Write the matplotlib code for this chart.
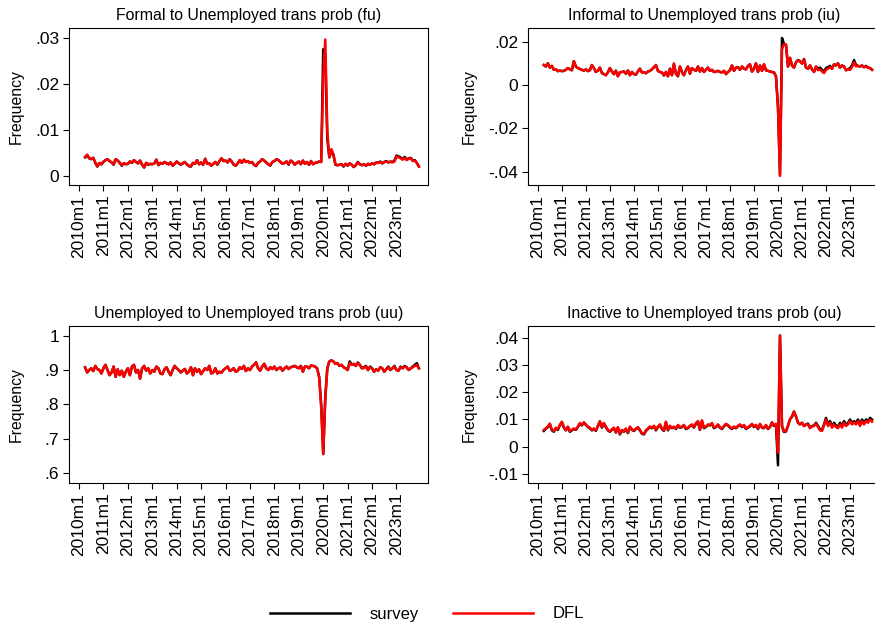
import numpy as np
import pandas as pd
import matplotlib
matplotlib.use("Agg")
import matplotlib.pyplot as plt

# monthly series, 2010m4 .. 2023m12
months = pd.period_range("2010-04", "2023-12", freq="M")

fu_survey = [
    .0040, .0045, .0038, .0036, .0039, .0028, .0020, .0027, .0025,
    .0030, .0034, .0036, .0032, .0029, .0024, .0036, .0033, .0028, .0022, .0027, .0025,
    .0026, .0031, .0028, .0034, .0030, .0027, .0033, .0024, .0018, .0028, .0024, .0026,
    .0025, .0027, .0035, .0023, .0028, .0026, .0030, .0027, .0025, .0029, .0022, .0026,
    .0031, .0027, .0024, .0027, .0030, .0025, .0021, .0020, .0028, .0026, .0034, .0025,
    .0029, .0024, .0037, .0026, .0027, .0022, .0026, .0030, .0024, .0032, .0038, .0032,
    .0033, .0029, .0036, .0031, .0024, .0022, .0027, .0034, .0028, .0035, .0030, .0032,
    .0028, .0030, .0024, .0021, .0028, .0031, .0036, .0033, .0029, .0025, .0022, .0030,
    .0032, .0036, .0034, .0030, .0026, .0028, .0031, .0024, .0033, .0030, .0024, .0028,
    .0031, .0025, .0033, .0026, .0030, .0024, .0032, .0025, .0028, .0029, .0031, .0030,
    .0275, .0262, .0080, .0040, .0055, .0045, .0024, .0023, .0024, .0025, .0020, .0026,
    .0022, .0027, .0024, .0019, .0023, .0030, .0025, .0023, .0025, .0022, .0026, .0024,
    .0027, .0025, .0029, .0028, .0031, .0027, .0030, .0032, .0029, .0031, .0030, .0033,
    .0044, .0042, .0040, .0036, .0041, .0035, .0038, .0039, .0033, .0034, .0028, .0020,
]
fu_dfl = [
    .0041, .0046, .0038, .0037, .0039, .0029, .0021, .0028, .0025,
    .0031, .0034, .0036, .0032, .0029, .0025, .0036, .0033, .0029, .0023, .0027, .0026,
    .0026, .0031, .0029, .0034, .0030, .0027, .0033, .0025, .0018, .0028, .0025, .0026,
    .0025, .0027, .0035, .0024, .0028, .0026, .0030, .0027, .0025, .0029, .0022, .0026,
    .0031, .0027, .0025, .0027, .0030, .0025, .0021, .0021, .0028, .0026, .0034, .0025,
    .0029, .0024, .0037, .0026, .0027, .0022, .0026, .0030, .0025, .0032, .0038, .0032,
    .0033, .0029, .0036, .0031, .0025, .0022, .0027, .0034, .0028, .0035, .0030, .0032,
    .0028, .0030, .0024, .0022, .0028, .0031, .0036, .0033, .0029, .0025, .0023, .0030,
    .0032, .0036, .0034, .0030, .0026, .0028, .0031, .0025, .0033, .0030, .0024, .0028,
    .0031, .0026, .0033, .0026, .0030, .0024, .0032, .0025, .0028, .0029, .0031, .0030,
    .0215, .0296, .0095, .0040, .0058, .0047, .0025, .0023, .0024, .0025, .0021, .0026,
    .0023, .0027, .0024, .0019, .0023, .0029, .0025, .0023, .0025, .0022, .0026, .0024,
    .0027, .0025, .0028, .0028, .0030, .0027, .0030, .0031, .0029, .0030, .0029, .0031,
    .0042, .0040, .0038, .0035, .0039, .0034, .0037, .0038, .0032, .0033, .0028, .0020,
]

iu_survey = [
    .0092, .0085, .0100, .0080, .0088, .0070, .0072, .0064, .0066,
    .0064, .0065, .0070, .0078, .0072, .0068, .0110, .0085, .0078, .0074, .0070, .0066,
    .0072, .0064, .0068, .0092, .0078, .0060, .0066, .0080, .0055, .0050, .0045, .0058,
    .0078, .0062, .0050, .0066, .0040, .0058, .0060, .0062, .0052, .0067, .0045, .0060,
    .0050, .0048, .0062, .0075, .0058, .0058, .0054, .0062, .0065, .0072, .0082, .0092,
    .0065, .0060, .0058, .0044, .0060, .0040, .0075, .0045, .0098, .0052, .0040, .0085,
    .0060, .0045, .0068, .0085, .0052, .0078, .0070, .0065, .0085, .0062, .0078, .0060,
    .0070, .0080, .0065, .0070, .0060, .0062, .0065, .0060, .0058, .0065, .0050, .0060,
    .0068, .0090, .0065, .0080, .0082, .0070, .0085, .0075, .0072, .0088, .0095, .0062,
    .0075, .0100, .0060, .0090, .0065, .0095, .0068, .0065, .0062, .0060, .0058, .0040,
    -.0100, -.0414, .0217, .0190, .0185, .0085, .0125, .0090, .0080, .0105, .0115, .0110,
    .0100, .0120, .0080, .0075, .0090, .0072, .0060, .0085, .0075, .0080, .0070, .0062,
    .0078, .0082, .0088, .0075, .0095, .0090, .0100, .0080, .0090, .0085, .0068, .0072,
    .0078, .0090, .0115, .0092, .0088, .0085, .0090, .0082, .0088, .0080, .0078, .0070,
]
iu_dfl = [
    .0092, .0085, .0100, .0080, .0088, .0070, .0072, .0064, .0066,
    .0064, .0065, .0070, .0078, .0072, .0068, .0110, .0085, .0078, .0074, .0070, .0066,
    .0072, .0064, .0068, .0092, .0078, .0060, .0066, .0080, .0055, .0050, .0045, .0058,
    .0078, .0062, .0050, .0066, .0040, .0058, .0060, .0062, .0052, .0067, .0045, .0060,
    .0050, .0048, .0062, .0075, .0058, .0058, .0054, .0062, .0065, .0072, .0082, .0092,
    .0065, .0060, .0058, .0044, .0060, .0040, .0075, .0045, .0098, .0052, .0040, .0085,
    .0060, .0045, .0068, .0085, .0052, .0078, .0070, .0065, .0085, .0062, .0078, .0060,
    .0070, .0080, .0065, .0070, .0060, .0062, .0065, .0060, .0058, .0065, .0050, .0060,
    .0068, .0090, .0065, .0080, .0082, .0070, .0085, .0075, .0072, .0088, .0095, .0062,
    .0075, .0100, .0060, .0090, .0065, .0095, .0068, .0065, .0062, .0060, .0058, .0038,
    -.0105, -.0420, .0165, .0188, .0187, .0085, .0125, .0090, .0080, .0105, .0113, .0108,
    .0098, .0118, .0080, .0075, .0090, .0072, .0060, .0085, .0068, .0072, .0062, .0055,
    .0070, .0075, .0082, .0075, .0095, .0090, .0098, .0080, .0090, .0085, .0068, .0072,
    .0070, .0082, .0105, .0086, .0088, .0085, .0090, .0082, .0086, .0080, .0078, .0070,
]

uu_survey = [
    .908, .893, .900, .905, .897, .912, .903, .900, .890,
    .905, .915, .900, .885, .893, .910, .880, .902, .885, .898, .880, .895,
    .905, .885, .910, .915, .893, .900, .875, .905, .912, .898, .905, .890,
    .900, .895, .910, .905, .890, .888, .902, .908, .895, .885, .900, .912,
    .905, .900, .893, .898, .903, .890, .895, .908, .885, .905, .895, .902,
    .888, .897, .905, .900, .912, .890, .893, .905, .890, .895, .892, .900,
    .905, .910, .898, .900, .905, .895, .898, .908, .903, .912, .897, .905,
    .900, .910, .915, .922, .905, .898, .910, .918, .905, .900, .908, .903,
    .910, .900, .905, .908, .898, .905, .910, .903, .908, .910, .912, .908,
    .905, .912, .895, .910, .910, .905, .913, .912, .910, .905, .880, .800,
    .655, .820, .905, .925, .928, .925, .918, .920, .912, .915, .908, .905,
    .900, .925, .915, .918, .912, .922, .915, .905, .908, .912, .900, .910,
    .905, .895, .902, .898, .908, .905, .895, .903, .910, .900, .905, .912,
    .900, .898, .910, .905, .912, .908, .900, .905, .910, .915, .920, .905,
]
uu_dfl = [
    .907, .893, .900, .905, .897, .912, .902, .900, .890,
    .905, .915, .900, .885, .893, .910, .880, .902, .885, .898, .880, .895,
    .905, .885, .910, .915, .893, .900, .875, .905, .912, .898, .905, .890,
    .900, .895, .910, .905, .890, .888, .902, .908, .895, .885, .900, .912,
    .905, .900, .893, .898, .903, .890, .895, .908, .885, .905, .895, .902,
    .888, .897, .905, .900, .912, .890, .893, .905, .890, .895, .892, .900,
    .905, .910, .898, .900, .905, .895, .898, .908, .903, .912, .897, .905,
    .900, .910, .915, .922, .905, .898, .910, .918, .905, .900, .908, .903,
    .910, .900, .905, .908, .898, .905, .910, .903, .908, .910, .912, .908,
    .905, .912, .895, .910, .910, .905, .913, .912, .910, .905, .878, .790,
    .655, .815, .905, .925, .928, .925, .918, .920, .912, .915, .908, .905,
    .900, .920, .915, .918, .912, .920, .915, .905, .906, .910, .900, .908,
    .904, .895, .902, .898, .908, .905, .895, .903, .908, .900, .905, .910,
    .900, .898, .908, .905, .910, .908, .900, .905, .908, .912, .915, .905,
]

ou_survey = [
    .0058, .0066, .0072, .0082, .0060, .0055, .0068, .0062, .0078,
    .0090, .0070, .0060, .0072, .0055, .0060, .0065, .0062, .0072, .0085, .0078, .0088,
    .0080, .0072, .0068, .0060, .0065, .0058, .0075, .0092, .0070, .0085, .0072, .0060,
    .0055, .0062, .0068, .0052, .0070, .0045, .0060, .0055, .0065, .0050, .0072, .0062,
    .0058, .0065, .0070, .0060, .0048, .0045, .0058, .0065, .0072, .0068, .0075, .0060,
    .0072, .0080, .0065, .0058, .0090, .0060, .0075, .0068, .0072, .0065, .0078, .0070,
    .0072, .0078, .0065, .0068, .0075, .0080, .0070, .0085, .0092, .0062, .0095, .0068,
    .0072, .0080, .0078, .0085, .0068, .0072, .0080, .0070, .0065, .0075, .0082, .0078,
    .0070, .0065, .0072, .0068, .0075, .0080, .0072, .0078, .0065, .0070, .0075, .0082,
    .0072, .0078, .0065, .0082, .0070, .0068, .0078, .0065, .0072, .0088, .0076, .0082,
    -.0068, .0408, .0076, .0054, .0056, .0076, .0100, .0110, .0129, .0111, .0088, .0082,
    .0088, .0076, .0082, .0085, .0070, .0076, .0078, .0088, .0076, .0064, .0062, .0082,
    .0106, .0082, .0094, .0076, .0088, .0078, .0074, .0088, .0076, .0094, .0082, .0088,
    .0100, .0088, .0094, .0088, .0100, .0082, .0100, .0088, .0100, .0094, .0106, .0100,
]
ou_dfl = [
    .0062, .0068, .0075, .0085, .0063, .0058, .0070, .0065, .0080,
    .0092, .0072, .0062, .0074, .0058, .0062, .0067, .0064, .0074, .0087, .0080, .0090,
    .0082, .0074, .0070, .0062, .0067, .0060, .0077, .0094, .0072, .0087, .0074, .0062,
    .0057, .0064, .0070, .0054, .0072, .0047, .0062, .0057, .0067, .0052, .0074, .0064,
    .0060, .0067, .0072, .0062, .0050, .0047, .0060, .0067, .0074, .0070, .0077, .0062,
    .0074, .0082, .0067, .0060, .0092, .0062, .0077, .0070, .0074, .0067, .0080, .0072,
    .0074, .0080, .0067, .0070, .0077, .0082, .0072, .0087, .0094, .0064, .0097, .0070,
    .0074, .0082, .0080, .0087, .0070, .0074, .0082, .0072, .0067, .0077, .0084, .0080,
    .0072, .0067, .0074, .0070, .0077, .0082, .0074, .0080, .0067, .0072, .0077, .0084,
    .0074, .0080, .0067, .0084, .0072, .0070, .0080, .0067, .0074, .0090, .0078, .0084,
    -.0022, .0408, .0078, .0056, .0058, .0078, .0102, .0112, .0129, .0111, .0088, .0082,
    .0088, .0076, .0082, .0082, .0068, .0074, .0076, .0085, .0072, .0060, .0058, .0078,
    .0100, .0076, .0088, .0070, .0082, .0072, .0068, .0082, .0070, .0088, .0076, .0082,
    .0094, .0082, .0088, .0082, .0094, .0076, .0094, .0082, .0094, .0088, .0100, .0092,
]

titles = [
    "Formal to Unemployed trans prob (fu)",
    "Informal to Unemployed trans prob (iu)",
    "Unemployed to Unemployed trans prob (uu)",
    "Inactive to Unemployed trans prob (ou)",
]
yticks = [
    [0, .01, .02, .03],
    [-.04, -.02, 0, .02],
    [.6, .7, .8, .9, 1],
    [-.01, 0, .01, .02, .03, .04],
]
ylims = [(-.0020, .0321), (-.0462, .0263), (.5706, 1.0283), (-.0133, .0443)]
tick_years = list(range(2010, 2024))


def stata_num(v):
    # Stata style: ".03", "-.04", "0", "1"
    if v == 0:
        return "0"
    s = f"{v:g}"
    return s.replace("0.", ".")


plt.rcParams["font.family"] = ["Liberation Sans", "DejaVu Sans"]

x = months.year + (months.month - 1) / 12

fig = plt.figure(figsize=(8.75, 6.28), dpi=100)
W, H = 875, 628
boxes = [(69, 28, 359, 157), (528, 28, 353, 157),
         (69, 326, 359, 157), (528, 326, 353, 157)]
series = [(fu_survey, fu_dfl), (iu_survey, iu_dfl),
          (uu_survey, uu_dfl), (ou_survey, ou_dfl)]
label_x = [-0.125, -0.144, -0.125, -0.144]

for k in range(4):
    l, t, w, h = boxes[k]
    ax = fig.add_axes([l / W, 1 - (t + h) / H, w / W, h / H])
    s, d = series[k]
    l1, = ax.plot(x, s, color="black", lw=1.8, label="survey")
    l2, = ax.plot(x, d, color="red", lw=1.8, label="DFL")
    ax.set_xlim(2009.59, 2024.29)
    ax.set_ylim(*ylims[k])
    ax.set_xticks(tick_years)
    ax.set_xticklabels([f"{yr}m1" for yr in tick_years], rotation=90, fontsize=12.5)
    ax.set_yticks(yticks[k])
    ax.set_yticklabels([stata_num(v) for v in yticks[k]], fontsize=12.5)
    ax.tick_params(length=4, width=0.8, pad=3, direction="out")
    ax.set_title(titles[k], fontsize=11.4, pad=5.5)
    ax.set_ylabel("Frequency", fontsize=11.4)
    ax.yaxis.set_label_coords(label_x[k], 0.5)
    for sp in ax.spines.values():
        sp.set_linewidth(0.8)

fig.legend([l1, l2], ["survey", "DFL"], loc="center", ncol=2,
           bbox_to_anchor=(427 / W, 1 - 614 / H), frameon=False, fontsize=12,
           handlelength=4.8, handletextpad=1.15, columnspacing=2.1)

fig.savefig("out.png", dpi=100)
